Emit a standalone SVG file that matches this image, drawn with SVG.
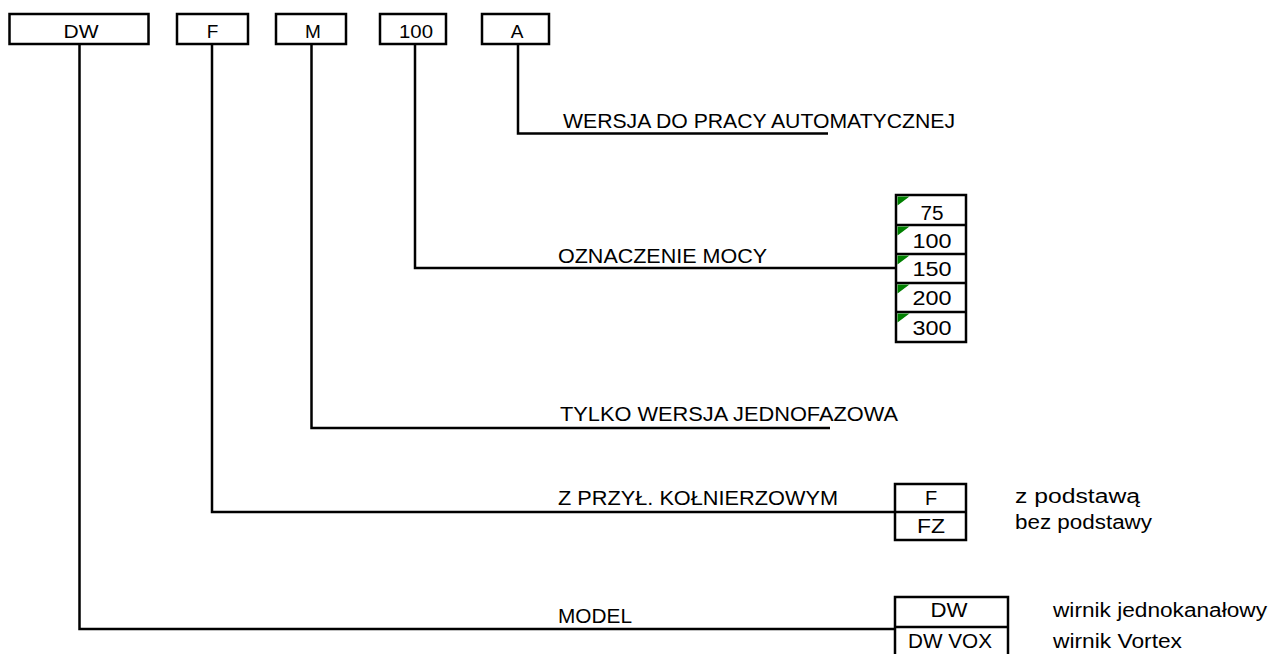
<svg xmlns="http://www.w3.org/2000/svg" width="1269" height="654" viewBox="0 0 1269 654">
<style>
text{font-family:"Liberation Sans",Arial,sans-serif;fill:#000;font-size:20px;}
.t{font-size:19px;}
.c{text-anchor:middle;}
.box{fill:#fff;stroke:#000;stroke-width:2.5;}
.ln{fill:none;stroke:#000;stroke-width:2.5;}
.tri{fill:#008000;}
</style>
<rect width="1269" height="654" fill="#fff"/>
<g id="connectors">
<path class="ln" d="M518 44V133.5H828"/>
<path class="ln" d="M415 44V268H896"/>
<path class="ln" d="M311.5 44V428H830"/>
<path class="ln" d="M212 44V512H895"/>
<path class="ln" d="M79.5 44V629H895"/>
</g>
<g id="code-DW"><rect class="box" x="9.5" y="14" width="139" height="30"/><text class="t c" x="81" y="38" textLength="35" lengthAdjust="spacingAndGlyphs">DW</text></g>
<g id="code-F"><rect class="box" x="177" y="14" width="71" height="30"/><text class="t c" x="212.5" y="38">F</text></g>
<g id="code-M"><rect class="box" x="276" y="14" width="70" height="30"/><text class="t c" x="313" y="38">M</text></g>
<g id="code-100"><rect class="box" x="380" y="14" width="66" height="30"/><text class="t c" x="416" y="38" textLength="34" lengthAdjust="spacingAndGlyphs">100</text></g>
<g id="code-A"><rect class="box" x="482" y="14" width="67" height="30"/><text class="t c" x="517" y="38">A</text></g>
<g id="label-A"><text x="563" y="128" textLength="392" lengthAdjust="spacingAndGlyphs">WERSJA DO PRACY AUTOMATYCZNEJ</text></g>
<g id="label-100"><text x="558" y="263" textLength="209" lengthAdjust="spacingAndGlyphs">OZNACZENIE MOCY</text></g>
<g id="power-options">
<rect class="box" x="896" y="195" width="70" height="147"/>
<path class="ln" d="M896 225H966M896 254H966M896 283H966M896 312H966"/>
<path class="tri" d="M897.5 196.5h12l-12 9zM897.5 226.5h12l-12 9zM897.5 255.5h12l-12 9zM897.5 284.5h12l-12 9zM897.5 313.5h12l-12 9z"/>
<text class="c" x="932" y="220" textLength="23" lengthAdjust="spacingAndGlyphs">75</text>
<text class="c" x="932" y="248" textLength="39" lengthAdjust="spacingAndGlyphs">100</text>
<text class="c" x="932" y="276" textLength="39" lengthAdjust="spacingAndGlyphs">150</text>
<text class="c" x="932" y="305" textLength="39" lengthAdjust="spacingAndGlyphs">200</text>
<text class="c" x="932" y="335" textLength="39" lengthAdjust="spacingAndGlyphs">300</text>
</g>
<g id="label-M"><text x="560" y="421" textLength="338" lengthAdjust="spacingAndGlyphs">TYLKO WERSJA JEDNOFAZOWA</text></g>
<g id="label-F"><text x="558" y="505" textLength="280" lengthAdjust="spacingAndGlyphs">Z PRZYŁ. KOŁNIERZOWYM</text></g>
<g id="flange-options">
<rect class="box" x="895" y="484" width="71" height="56"/>
<path class="ln" d="M895 512H966"/>
<text class="c" x="931" y="505">F</text>
<text class="c" x="931" y="533" textLength="28" lengthAdjust="spacingAndGlyphs">FZ</text>
<text x="1015" y="503" textLength="125" lengthAdjust="spacingAndGlyphs">z podstawą</text>
<text x="1015" y="529" textLength="137" lengthAdjust="spacingAndGlyphs">bez podstawy</text>
</g>
<g id="label-DW"><text x="558" y="623" textLength="74" lengthAdjust="spacingAndGlyphs">MODEL</text></g>
<g id="model-options">
<rect class="box" x="895" y="597" width="113" height="60"/>
<path class="ln" d="M895 627H1008"/>
<text class="c" x="949" y="617" textLength="37" lengthAdjust="spacingAndGlyphs">DW</text>
<text class="c" x="950" y="648" textLength="84" lengthAdjust="spacingAndGlyphs">DW VOX</text>
<text x="1053" y="617" textLength="214" lengthAdjust="spacingAndGlyphs">wirnik jednokanałowy</text>
<text x="1053" y="648" textLength="129" lengthAdjust="spacingAndGlyphs">wirnik Vortex</text>
</g>
</svg>
